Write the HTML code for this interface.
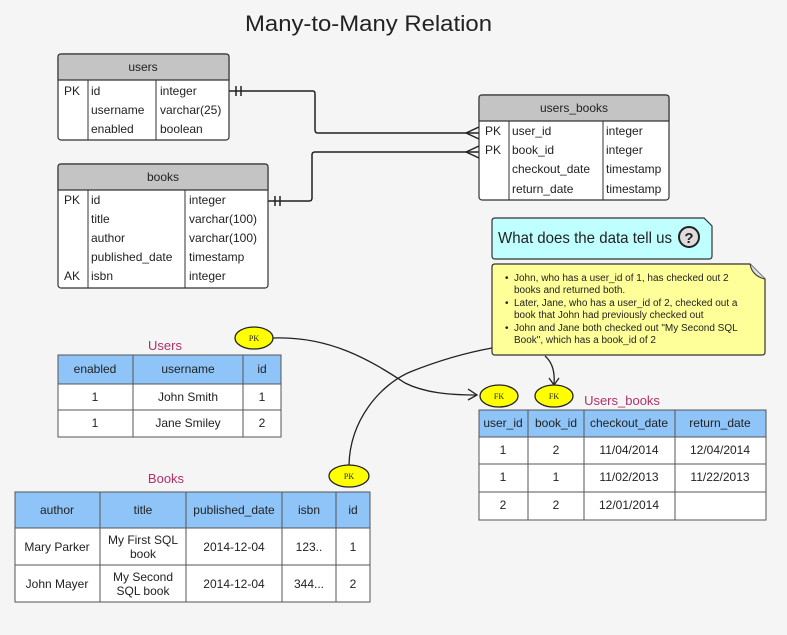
<!DOCTYPE html>
<html><head><meta charset="utf-8"><style>
html,body{margin:0;padding:0;background:#f5f5f5;}
svg{display:block;font-family:"Liberation Sans",sans-serif;}
</style></head><body>
<svg width="787" height="635" viewBox="0 0 787 635" xmlns="http://www.w3.org/2000/svg">
<rect width="787" height="635" fill="#f5f5f5"/>
<text x="245" y="31" font-size="22" textLength="247" lengthAdjust="spacingAndGlyphs" fill="#222">Many-to-Many Relation</text>

<!-- connectors ER -->
<g fill="none" stroke="#222" stroke-width="1.5">
<path d="M229,91 H313 Q315,91 315,94 V130 Q315,133 318,133 H479"/>
<path d="M236,86 V96 M241,86 V96"/>
<path d="M466,133 L479,127 M466,133 L479,139"/>
<path d="M268,201 H309 Q312,201 312,198 V155 Q312,152 315,152 H479"/>
<path d="M275,196 V206 M280,196 V206"/>
<path d="M466,152 L479,146 M466,152 L479,158"/>
</g>

<!-- users ER -->
<g font-size="12" fill="#222">
<rect x="58" y="54" width="171" height="86" rx="3" fill="#fff" stroke="#333" stroke-width="1.2"/>
<path d="M61,54 H226 Q229,54 229,57 V80 H58 V57 Q58,54 61,54Z" fill="#c4c4c4" stroke="#333" stroke-width="1.2"/>
<line x1="88" y1="80" x2="88" y2="140" stroke="#333"/><line x1="156" y1="80" x2="156" y2="140" stroke="#333"/>
<text x="143" y="71" text-anchor="middle">users</text>
<text x="64" y="95">PK</text><text x="91" y="95">id</text><text x="160" y="95">integer</text>
<text x="91" y="114">username</text><text x="160" y="114">varchar(25)</text>
<text x="91" y="133">enabled</text><text x="160" y="133">boolean</text>

<rect x="58" y="164" width="210" height="124" rx="3" fill="#fff" stroke="#333" stroke-width="1.2"/>
<path d="M61,164 H265 Q268,164 268,167 V190 H58 V167 Q58,164 61,164Z" fill="#c4c4c4" stroke="#333" stroke-width="1.2"/>
<line x1="88" y1="190" x2="88" y2="288" stroke="#333"/><line x1="185" y1="190" x2="185" y2="288" stroke="#333"/>
<text x="163" y="181" text-anchor="middle">books</text>
<text x="64" y="204">PK</text><text x="91" y="204">id</text><text x="189" y="204">integer</text>
<text x="91" y="223">title</text><text x="189" y="223">varchar(100)</text>
<text x="91" y="242">author</text><text x="189" y="242">varchar(100)</text>
<text x="91" y="261">published_date</text><text x="189" y="261">timestamp</text>
<text x="64" y="280">AK</text><text x="91" y="280">isbn</text><text x="189" y="280">integer</text>

<rect x="479" y="95" width="190" height="105" rx="3" fill="#fff" stroke="#333" stroke-width="1.2"/>
<path d="M482,95 H666 Q669,95 669,98 V121 H479 V98 Q479,95 482,95Z" fill="#c4c4c4" stroke="#333" stroke-width="1.2"/>
<line x1="509" y1="121" x2="509" y2="200" stroke="#333"/><line x1="603" y1="121" x2="603" y2="200" stroke="#333"/>
<text x="574" y="112" text-anchor="middle">users_books</text>
<text x="485" y="135">PK</text><text x="512" y="135">user_id</text><text x="606" y="135">integer</text>
<text x="485" y="154">PK</text><text x="512" y="154">book_id</text><text x="606" y="154">integer</text>
<text x="512" y="173">checkout_date</text><text x="606" y="173">timestamp</text>
<text x="512" y="193">return_date</text><text x="606" y="193">timestamp</text>
</g>

<!-- question box -->
<path d="M495,218 H704 L712,226 V256 Q712,259 709,259 H495 Q492,259 492,256 V221 Q492,218 495,218Z" fill="#bfffff" stroke="#333" stroke-width="1.2"/>
<text x="498" y="243" font-size="16" textLength="174" lengthAdjust="spacingAndGlyphs" fill="#222">What does the data tell us</text>
<circle cx="689" cy="237" r="10" fill="#ddd" stroke="#222" stroke-width="2"/>
<text x="689" y="243" font-size="15" font-weight="bold" text-anchor="middle" fill="#222">?</text>

<!-- note -->
<path d="M495,264 H750 L765,279 V352 Q765,355 762,355 H495 Q492,355 492,352 V267 Q492,264 495,264Z" fill="#ffff99" stroke="#333" stroke-width="1.2"/>
<path d="M750,264 Q752,276 765,279" fill="#ddd" stroke="#333"/>
<g font-size="10" fill="#222">
<text x="505" y="281">•</text><text x="514" y="281">John, who has a user_id of 1, has checked out 2</text>
<text x="514" y="293">books and returned both.</text>
<text x="505" y="306">•</text><text x="514" y="306">Later, Jane, who has a user_id of 2, checked out a</text>
<text x="514" y="318">book that John had previously checked out</text>
<text x="505" y="331">•</text><text x="514" y="331">John and Jane both checked out "My Second SQL</text>
<text x="514" y="343">Book", which has a book_id of 2</text>
</g>

<!-- Users table -->
<g font-size="12" fill="#222" text-anchor="middle">
<text x="165" y="350" fill="#b0306a" font-size="13">Users</text>
<rect x="58" y="355" width="223" height="29" fill="#8ec4f8"/>
<rect x="58" y="384" width="223" height="53" fill="#fff"/>
<g stroke="#555" fill="none"><rect x="58" y="355" width="223" height="82"/><path d="M58,384H281M58,410H281M133,355V437M243,355V437"/></g>
<text x="95" y="373">enabled</text><text x="188" y="373">username</text><text x="262" y="373">id</text>
<text x="95" y="401">1</text><text x="188" y="401">John Smith</text><text x="262" y="401">1</text>
<text x="95" y="427">1</text><text x="188" y="427">Jane Smiley</text><text x="262" y="427">2</text>

<text x="166" y="483" fill="#b0306a" font-size="13">Books</text>
<rect x="15" y="492" width="355" height="36" fill="#8ec4f8"/>
<rect x="15" y="528" width="355" height="74" fill="#fff"/>
<g stroke="#555" fill="none"><rect x="15" y="492" width="355" height="110"/><path d="M15,528H370M15,565H370M100,492V602M186,492V602M282,492V602M336,492V602"/></g>
<text x="57" y="514">author</text><text x="143" y="514">title</text><text x="234" y="514">published_date</text><text x="309" y="514">isbn</text><text x="353" y="514">id</text>
<text x="57" y="551">Mary Parker</text><text x="143" y="544">My First SQL</text><text x="143" y="558">book</text><text x="234" y="551">2014-12-04</text><text x="309" y="551">123..</text><text x="353" y="551">1</text>
<text x="57" y="588">John Mayer</text><text x="143" y="581">My Second</text><text x="143" y="595">SQL book</text><text x="234" y="588">2014-12-04</text><text x="309" y="588">344...</text><text x="353" y="588">2</text>

<text x="622" y="405" fill="#b0306a" font-size="13">Users_books</text>
<rect x="479" y="410" width="287" height="27" fill="#8ec4f8"/>
<rect x="479" y="437" width="287" height="83" fill="#fff"/>
<g stroke="#555" fill="none"><rect x="479" y="410" width="287" height="110"/><path d="M479,437H766M479,464H766M479,492H766M528,410V520M584,410V520M675,410V520"/></g>
<text x="503" y="427">user_id</text><text x="556" y="427">book_id</text><text x="629" y="427">checkout_date</text><text x="720" y="427">return_date</text>
<text x="503" y="454">1</text><text x="556" y="454">2</text><text x="629" y="454">11/04/2014</text><text x="720" y="454">12/04/2014</text>
<text x="503" y="481">1</text><text x="556" y="481">1</text><text x="629" y="481">11/02/2013</text><text x="720" y="481">11/22/2013</text>
<text x="503" y="509">2</text><text x="556" y="509">2</text><text x="629" y="509">12/01/2014</text>
</g>

<!-- curves -->
<g fill="none" stroke="#222" stroke-width="1.3">
<path d="M273,338 C330,336 370,360 405,383 C425,393 450,395 477,395"/>
<path d="M468,389 L477,395 L468,400"/>
<path d="M349,465 C350,420 380,385 410,372 C440,360 470,352 492,348"/>
<path d="M545,356 C552,362 555,372 554,384"/>
<path d="M549,378 L554,385 L559,378"/>
</g>

<!-- ellipses -->
<g stroke="#222" stroke-width="1.3" fill="#ffff00">
<ellipse cx="254" cy="338" rx="19" ry="11"/>
<ellipse cx="349" cy="476" rx="20" ry="11"/>
<ellipse cx="499" cy="396" rx="19" ry="11"/>
<ellipse cx="554" cy="396" rx="19" ry="11"/>
</g>
<g font-family="Liberation Serif,serif" font-size="8" text-anchor="middle" fill="#222">
<text x="254" y="341">PK</text><text x="349" y="479">PK</text><text x="499" y="399">FK</text><text x="554" y="399">FK</text>
</g>
</svg>
</body></html>
